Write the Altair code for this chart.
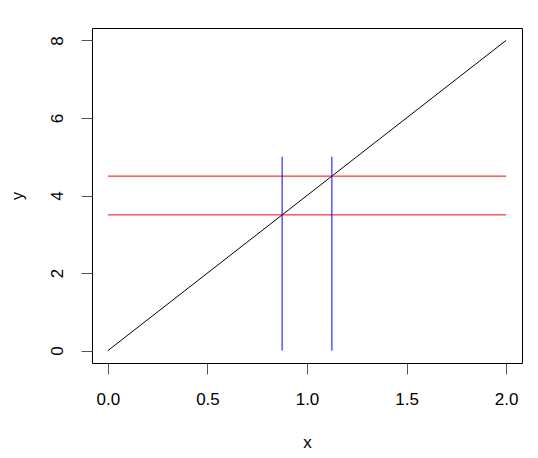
import altair as alt
import pandas as pd

# data
line_x = [0.0, 2.0]
line_y = [0.0, 8.0]
h_y = [3.5, 4.5]
h_x0 = [0.0, 0.0]
h_x1 = [2.0, 2.0]
v_x = [0.875, 1.125]
v_y0 = [0.0, 0.0]
v_y1 = [5.0, 5.0]
x_ticks = [0.0, 0.5, 1.0, 1.5, 2.0]
y_ticks = [0, 2, 4, 6, 8]

line_df = pd.DataFrame({"x": line_x, "y": line_y})
h_df = pd.DataFrame({"y": h_y, "x0": h_x0, "x1": h_x1})
v_df = pd.DataFrame({"x": v_x, "y0": v_y0, "y1": v_y1})

FONT = "Liberation Sans"

xscale = alt.Scale(domain=[-0.08, 2.08], nice=False, zero=False)
yscale = alt.Scale(domain=[-0.32, 8.32], nice=False, zero=False)

xaxis = alt.Axis(values=x_ticks, format=".1f", title="x", grid=False, domain=False,
                 tickSize=11, tickColor="#555555", labelPadding=17, labelFontSize=17,
                 titleFontSize=17, titleFontWeight="normal", titlePadding=27,
                 labelFont=FONT, titleFont=FONT, labelColor="black", titleColor="black")
yaxis = alt.Axis(values=y_ticks, format="d", title="y", grid=False, domain=False,
                 tickSize=11, tickColor="#555555", labelPadding=15, labelFontSize=17,
                 labelAngle=270, labelAlign="center", labelBaseline="bottom",
                 titleFontSize=16, titleFontWeight="normal", titlePadding=23,
                 labelFont=FONT, titleFont=FONT, labelColor="black", titleColor="black")

base_line = alt.Chart(line_df).mark_line(color="black", strokeWidth=1, clip=True).encode(
    x=alt.X("x:Q", scale=xscale, axis=xaxis),
    y=alt.Y("y:Q", scale=yscale, axis=yaxis),
)

hlines = alt.Chart(h_df).mark_rule(color="#FF0000", strokeWidth=1).encode(
    x=alt.X("x0:Q", scale=xscale),
    x2="x1:Q",
    y=alt.Y("y:Q", scale=yscale),
)

vlines = alt.Chart(v_df).mark_rule(color="#0000FF", strokeWidth=1).encode(
    x=alt.X("x:Q", scale=xscale),
    y=alt.Y("y0:Q", scale=yscale),
    y2="y1:Q",
)

chart = alt.layer(base_line, hlines, vlines).properties(
    width=430,
    height=335,
    autosize=alt.AutoSizeParams(type="none"),
    padding={"left": 84, "top": 20, "right": 8, "bottom": 87},
    background="white",
).configure_view(
    stroke="black", strokeWidth=1
)

chart.save("out.html", embed_options={"renderer": "svg", "actions": False})
